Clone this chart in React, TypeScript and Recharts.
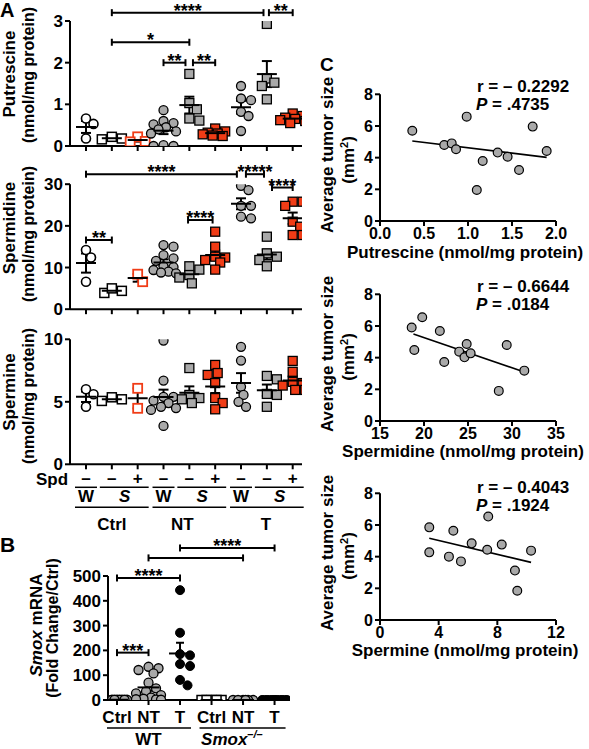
import React from 'react';
import { ScatterChart, Scatter, XAxis, YAxis, ReferenceLine, ErrorBar } from 'recharts';

const FONT = '"Liberation Sans", Arial, Helvetica, sans-serif';
const GRAY = '#a9a9a9';
const RED = '#f03c16';

// ---------------- Panel A data ----------------
const aCategories = [1, 2, 3, 4, 5, 6, 7, 8, 9];
const spdLabels = ['–', '–', '+', '–', '–', '+', '–', '–', '+'];
const genotypeLabels = ['W', 'S', 'W', 'S', 'W', 'S'];
const tissueLabels = ['Ctrl', 'NT', 'T'];

const putrescine = [
  [0.66, 0.53, 0.18],
  [0.16, 0.22, 0.18],
  [0.22, 0.1, 0.11],
  [0.86, 0.6, 0.55, 0.52, 0.45, 0.4, 0.35, 0.3, 0.02, 0, 0],
  [1.73, 1.03, 0.88, 0.66, 0.61],
  [0.42, 0.35, 0.32, 0.3, 0.28, 0.25, 0.24],
  [1.44, 1.14, 1.1, 0.82, 0.72, 0.36],
  [2.93, 1.62, 1.52, 1.44, 1.12],
  [0.78, 0.72, 0.68, 0.65, 0.62, 0.6, 0.55],
];
const spermidine = [
  [14.2, 12.4, 6.6],
  [3.9, 4.4, 5.0],
  [6.6, 8.4],
  [15.4, 15.0, 13.0, 12.2, 11.6, 10.3, 10.1, 9.4, 9.0, 8.6, 8.8],
  [10.3, 9.5, 8.2, 7.6, 6.2],
  [18.6, 15.0, 12.6, 12.4, 11.8, 11.2, 9.5],
  [29.6, 28.6, 24.8, 24.8, 22.2, 21.8],
  [17.4, 13.4, 12.6, 11.8, 10.3],
  [25.8, 25.8, 24.8, 21.0, 19.8, 17.8, 17.8],
];
const spermine = [
  [6.0, 5.6, 4.6],
  [5.07, 5.2, 5.36],
  [6.08, 4.48],
  [9.9, 6.7, 5.4, 5.4, 5.1, 4.9, 4.6, 4.5, 4.35, 3.07],
  [7.7, 5.55, 5.3, 5.2, 4.9],
  [7.95, 7.3, 7.15, 6.5, 5.3, 4.9, 4.4],
  [9.4, 8.3, 6.2, 5.55, 5.0, 4.6],
  [7.07, 6.8, 5.63, 5.55, 4.6],
  [8.27, 7.4, 6.6, 6.5, 6.3, 5.95, 5.95],
];

const putBrackets = [
  { from: 2, to: 7.87, y: 3.2, label: '****' },
  { from: 8.08, to: 9, y: 3.2, label: '**' },
  { from: 2, to: 5, y: 2.49, label: '*' },
  { from: 4, to: 4.85, y: 2.0, label: '**' },
  { from: 5.14, to: 6, y: 2.0, label: '**' },
];
const spdBrackets = [
  { from: 1, to: 6.84, y: 32.4, label: '****' },
  { from: 7.19, to: 7.89, y: 32.4, label: '*****' },
  { from: 8.2, to: 9, y: 29.2, label: '****' },
  { from: 4.95, to: 5.9, y: 21.4, label: '****' },
  { from: 1, to: 2, y: 16.6, label: '**' },
];

// ---------------- Panel B data ----------------
const bCategories = [1, 2, 3, 4, 5, 6];
const bLabels = ['Ctrl', 'NT', 'T', 'Ctrl', 'NT', 'T'];
const smoxWTCtrl = [1, 1, 1, 1, 1, 1, 1, 1];
const smoxWTNT = [134, 128, 121, 107, 70, 47, 35, 27, 20, 10, 5, 3, 2, 1];
const smoxWTT = [443, 271, 185, 180, 145, 137, 81, 59];
const smoxKOCtrl = [0, 0, 0, 0, 0];
const smoxKONT = [0, 0, 0, 0, 0, 0];
const smoxKOT = [0, 0, 0, 0, 0, 0, 0, 0, 0, 0, 0, 0];
const smoxGroups = [smoxWTCtrl, smoxWTNT, smoxWTT, smoxKOCtrl, smoxKONT, smoxKOT];
const bBrackets = [
  { from: 1, to: 2, y: 191, label: '***' },
  { from: 1, to: 3, y: 492, label: '****' },
  { from: 2, to: 5, y: 573, label: '' },
  { from: 3, to: 6, y: 613, label: '****' },
];

// ---------------- Panel C data ----------------
const putX = [0.367, 0.985, 0.73, 0.815, 0.864, 1.167, 1.1, 1.337, 1.45, 1.58, 1.735, 1.894];
const putTumor = [5.7, 6.59, 4.8, 4.9, 4.53, 3.79, 1.96, 4.32, 4.06, 3.22, 5.96, 4.42];
const spdX = [18.6, 19.8, 18.9, 21.8, 22.3, 24.0, 24.85, 24.6, 25.3, 29.4, 28.5, 31.4];
const spdTumor = [5.9, 6.55, 4.48, 5.68, 3.73, 4.38, 4.86, 4.02, 4.27, 4.8, 1.9, 3.18];
const spmX = [3.36, 3.36, 5.0, 4.7, 5.52, 6.25, 7.38, 7.31, 8.3, 9.2, 9.36, 10.3];
const spmTumor = [5.85, 4.27, 5.64, 4.0, 3.7, 4.84, 6.53, 4.44, 4.76, 3.12, 1.85, 4.38];
const putFit = [{ x: 0.367, y: 5.05 }, { x: 1.894, y: 4.02 }];
const spdFit = [{ x: 18.8, y: 5.49 }, { x: 31.4, y: 3.09 }];
const spmFit = [{ x: 3.36, y: 5.16 }, { x: 10.3, y: 3.64 }];

// ---------------- styles / layout ----------------
type Kind = 'openCircle' | 'openSquare' | 'redOpenSquare' | 'grayCircle' | 'graySquare' | 'redSquare' | 'blackCircle';
const aKinds: Kind[] = ['openCircle', 'openSquare', 'redOpenSquare', 'grayCircle', 'graySquare', 'redSquare', 'grayCircle', 'graySquare', 'redSquare'];
const bKinds: Kind[] = ['grayCircle', 'grayCircle', 'blackCircle', 'openSquare', 'grayCircle', 'blackCircle'];
const tissueShift = [0, -7, -1];

const A_W = 310;
const A_ML = 40;
const A_YW = 30;
const A_MR = 8;
const A_X_DOMAIN: [number, number] = [0.381, 9.36];
const A_PLOT_W = A_W - A_ML - A_YW - A_MR;
const A_PX_PER_CAT = A_PLOT_W / (A_X_DOMAIN[1] - A_X_DOMAIN[0]);
const A_PLOT_H = 125;

const B_X_DOMAIN: [number, number] = [0.714, 6.49];
const B_PLOT_W = 182;
const B_PX_PER_CAT = B_PLOT_W / (B_X_DOMAIN[1] - B_X_DOMAIN[0]);
const B_PLOT_H = 124;

const AXIS = { stroke: '#000', strokeWidth: 2 };
const tickFont = (size: number) => ({ fill: '#000', fontSize: size, fontWeight: 'bold' as const, fontFamily: FONT });

function mean(v: number[]) {
  return v.reduce((a, b) => a + b, 0) / v.length;
}
function sem(v: number[]) {
  if (v.length < 2) return 0;
  const m = mean(v);
  const sd = Math.sqrt(v.reduce((a, b) => a + (b - m) * (b - m), 0) / (v.length - 1));
  return sd / Math.sqrt(v.length);
}

function swarmOffsets(values: number[], pxPerUnit: number, maxHalf = 12.5, dMin = 8.5): number[] {
  const order = values.map((_, i) => i).sort((a, b) => values[b] - values[a]);
  const placed: { x: number; y: number }[] = [];
  const out = new Array(values.length).fill(0);
  const cands = [0];
  for (let s = 2.5; s <= maxHalf + 0.01; s += 2.5) cands.push(s, -s);
  for (const i of order) {
    const y = values[i] * pxPerUnit;
    let best = 0;
    let bestScore = -Infinity;
    for (const c of cands) {
      let md = Infinity;
      for (const p of placed) md = Math.min(md, Math.hypot(p.x - c, p.y - y));
      if (md >= dMin) {
        best = c;
        break;
      }
      if (md > bestScore) {
        bestScore = md;
        best = c;
      }
    }
    placed.push({ x: best, y });
    out[i] = best;
  }
  return out;
}

function drawMarker(kind: Kind, cx: number, cy: number) {
  const r = 4.5;
  switch (kind) {
    case 'openCircle':
      return <circle cx={cx} cy={cy} r={r} fill="#fff" stroke="#000" strokeWidth={1.6} />;
    case 'grayCircle':
      return <circle cx={cx} cy={cy} r={r} fill={GRAY} stroke="#000" strokeWidth={1.3} />;
    case 'blackCircle':
      return <circle cx={cx} cy={cy} r={r} fill="#000" stroke="#000" strokeWidth={1} />;
    case 'openSquare':
      return <rect x={cx - r} y={cy - r} width={2 * r} height={2 * r} fill="#fff" stroke="#000" strokeWidth={1.5} />;
    case 'graySquare':
      return <rect x={cx - r} y={cy - r} width={2 * r} height={2 * r} fill={GRAY} stroke="#000" strokeWidth={1.3} />;
    case 'redSquare':
      return <rect x={cx - r} y={cy - r} width={2 * r} height={2 * r} fill={RED} stroke="#000" strokeWidth={1.3} />;
    case 'redOpenSquare':
    default:
      return <rect x={cx - r} y={cy - r} width={2 * r} height={2 * r} fill="#fff" stroke={RED} strokeWidth={1.8} />;
  }
}

const markerShape = (kind: Kind) => (p: any) => drawMarker(kind, p.cx, p.cy);
const meanShape = (half: number) => (p: any) => (
  <line x1={p.cx - half} x2={p.cx + half} y1={p.cy} y2={p.cy} stroke="#000" strokeWidth={2} />
);

const bracketShape = (label: string) => (p: any) => {
  const { x1, x2, y1 } = p;
  return (
    <g>
      <line x1={x1} x2={x2} y1={y1} y2={y1} stroke="#000" strokeWidth={2} />
      <line x1={x1} x2={x1} y1={y1 - 3.5} y2={y1 + 3.5} stroke="#000" strokeWidth={2} />
      <line x1={x2} x2={x2} y1={y1 - 3.5} y2={y1 + 3.5} stroke="#000" strokeWidth={2} />
      {label ? (
        <text x={(x1 + x2) / 2} y={y1 + 4} textAnchor="middle" fontFamily={FONT} fontWeight="bold" fontSize={18} fill="#000">
          {label}
        </text>
      ) : null}
    </g>
  );
};

const EmptyTick = () => <g />;

const txt = { fontFamily: FONT, fontWeight: 'bold' as const, fill: '#000' };

const AGroupTick = (props: any) => {
  const { x, y, payload } = props;
  const i = Math.round(payload.value);
  const axisY = y - 5;
  const step = A_PX_PER_CAT;
  const pos = (i - 1) % 3;
  const g = Math.floor((i - 1) / 3);
  return (
    <g>
      {i === 1 ? (
        <text x={x - 34} y={axisY + 21} textAnchor="middle" fontSize={17} {...txt}>
          Spd
        </text>
      ) : null}
      <text x={x} y={axisY + 20} textAnchor="middle" fontSize={17} {...txt}>
        {spdLabels[i - 1]}
      </text>
      {pos === 0 ? (
        <g>
          <line x1={x - 11} x2={x + 11} y1={axisY + 23} y2={axisY + 23} stroke="#000" strokeWidth={1.5} />
          <text x={x} y={axisY + 38} textAnchor="middle" fontSize={17} {...txt}>
            {genotypeLabels[g * 2]}
          </text>
        </g>
      ) : null}
      {pos === 1 ? (
        <g>
          <line x1={x - 12} x2={x + step + 11} y1={axisY + 23} y2={axisY + 23} stroke="#000" strokeWidth={1.5} />
          <text x={x + step / 2} y={axisY + 38} textAnchor="middle" fontSize={17} fontStyle="italic" {...txt}>
            {genotypeLabels[g * 2 + 1]}
          </text>
          <line x1={x - step - 11} x2={x + step + 11} y1={axisY + 43} y2={axisY + 43} stroke="#000" strokeWidth={1.5} />
          <text x={x + tissueShift[g]} y={axisY + 66} textAnchor="middle" fontSize={17} {...txt}>
            {tissueLabels[g]}
          </text>
        </g>
      ) : null}
    </g>
  );
};

const BTick = (props: any) => {
  const { x, y, payload } = props;
  const i = Math.round(payload.value);
  const axisY = y - 5;
  const step = B_PX_PER_CAT;
  return (
    <g>
      <text x={x} y={axisY + 23} textAnchor="middle" fontSize={17} {...txt}>
        {bLabels[i - 1]}
      </text>
      {i === 2 ? (
        <g>
          <line x1={x - step - 10} x2={x + step + 11} y1={axisY + 28} y2={axisY + 28} stroke="#000" strokeWidth={1.5} />
          <text x={x} y={axisY + 45} textAnchor="middle" fontSize={17} {...txt}>
            WT
          </text>
        </g>
      ) : null}
      {i === 5 ? (
        <g>
          <line x1={x - step - 12} x2={x + step + 11} y1={axisY + 28} y2={axisY + 28} stroke="#000" strokeWidth={1.5} />
          <text x={x - 42} y={axisY + 45} textAnchor="start" fontSize={17} fontStyle="italic" {...txt}>
            Smox
            <tspan dy={-7} fontSize={11} fontStyle="italic">
              –/–
            </tspan>
          </text>
        </g>
      ) : null}
    </g>
  );
};

type Bracket = { from: number; to: number; y: number; label: string };

function PanelA(props: {
  values: number[][];
  yMax: number;
  yTicks: number[];
  brackets: Bracket[];
  top: number;
  marginTop: number;
  xAxisHeight: number;
  groupTicks?: boolean;
}) {
  const { values, yMax, yTicks, brackets, top, marginTop, xAxisHeight, groupTicks } = props;
  const height = marginTop + A_PLOT_H + xAxisHeight;
  const pxY = A_PLOT_H / yMax;
  const series = values.map((vals, ci) => {
    const offs = swarmOffsets(vals, pxY);
    return vals.map((v, k) => ({ x: aCategories[ci] + offs[k] / A_PX_PER_CAT, y: v }));
  });
  const means = values.map((vals, ci) => ({ x: aCategories[ci], y: mean(vals), sem: sem(vals) }));
  return (
    <div style={{ position: 'absolute', left: 0, top, width: A_W, height }}>
      <ScatterChart width={A_W} height={height} margin={{ top: marginTop, right: A_MR, bottom: 0, left: A_ML }}>
        <XAxis
          type="number"
          dataKey="x"
          domain={A_X_DOMAIN}
          ticks={aCategories}
          allowDataOverflow
          interval={0}
          height={xAxisHeight}
          tickSize={5}
          tickMargin={0}
          axisLine={AXIS}
          tickLine={AXIS}
          tick={groupTicks ? AGroupTick : EmptyTick}
        />
        <YAxis
          type="number"
          dataKey="y"
          domain={[0, yMax]}
          ticks={yTicks}
          allowDataOverflow
          interval={0}
          width={A_YW}
          tickSize={5}
          axisLine={AXIS}
          tickLine={AXIS}
          tick={tickFont(17)}
        />
        {series.map((d, ci) => (
          <Scatter key={ci} data={d} isAnimationActive={false} shape={markerShape(aKinds[ci])} />
        ))}
        <Scatter data={means} isAnimationActive={false} shape={meanShape(10)}>
          <ErrorBar dataKey="sem" direction="y" width={5} stroke="#000" strokeWidth={2} />
        </Scatter>
        {brackets.map((b, k) => (
          <ReferenceLine
            key={k}
            segment={[
              { x: b.from, y: b.y },
              { x: b.to, y: b.y },
            ]}
            ifOverflow="visible"
            shape={bracketShape(b.label)}
          />
        ))}
      </ScatterChart>
    </div>
  );
}

function PanelB() {
  const pxY = B_PLOT_H / 500;
  const series = smoxGroups.map((vals, ci) => {
    const offs = swarmOffsets(vals, pxY, 12.5, 8.5);
    return vals.map((v, k) => ({ x: bCategories[ci] + offs[k] / B_PX_PER_CAT, y: v }));
  });
  const means = smoxGroups.map((vals, ci) => ({ x: bCategories[ci], y: mean(vals), sem: sem(vals) }));
  const W = 240;
  const H = 46 + B_PLOT_H + 49;
  return (
    <div style={{ position: 'absolute', left: 60, top: 530, width: W, height: H }}>
      <ScatterChart width={W} height={H} margin={{ top: 46, right: 10, bottom: 0, left: 8 }}>
        <XAxis
          type="number"
          dataKey="x"
          domain={B_X_DOMAIN}
          ticks={bCategories}
          allowDataOverflow
          interval={0}
          height={49}
          tickSize={5}
          tickMargin={0}
          axisLine={AXIS}
          tickLine={AXIS}
          tick={BTick}
        />
        <YAxis
          type="number"
          dataKey="y"
          domain={[0, 500]}
          ticks={[0, 100, 200, 300, 400, 500]}
          allowDataOverflow
          interval={0}
          width={40}
          tickSize={5}
          axisLine={AXIS}
          tickLine={AXIS}
          tick={tickFont(17)}
        />
        {series.map((d, ci) => (
          <Scatter key={ci} data={d} isAnimationActive={false} shape={markerShape(bKinds[ci])} />
        ))}
        <Scatter data={means} isAnimationActive={false} shape={meanShape(11)}>
          <ErrorBar dataKey="sem" direction="y" width={4} stroke="#000" strokeWidth={2} />
        </Scatter>
        {bBrackets.map((b, k) => (
          <ReferenceLine
            key={k}
            segment={[
              { x: b.from, y: b.y },
              { x: b.to, y: b.y },
            ]}
            ifOverflow="visible"
            shape={bracketShape(b.label)}
          />
        ))}
      </ScatterChart>
    </div>
  );
}

function PanelC(props: {
  top: number;
  xs: number[];
  ys: number[];
  xDomain: [number, number];
  xTicks: number[];
  fmt: (v: number) => string;
  fit: { x: number; y: number }[];
}) {
  const { top, xs, ys, xDomain, xTicks, fmt, fit } = props;
  const data = xs.map((x, i) => ({ x, y: ys[i] }));
  const W = 260;
  const H = 205;
  return (
    <div style={{ position: 'absolute', left: 330, top, width: W, height: H }}>
      <ScatterChart width={W} height={H} margin={{ top: 34.3, right: 34, bottom: 0, left: 20 }}>
        <XAxis
          type="number"
          dataKey="x"
          domain={xDomain}
          ticks={xTicks}
          allowDataOverflow
          interval={0}
          height={44}
          tickSize={5}
          axisLine={AXIS}
          tickLine={AXIS}
          tickFormatter={fmt}
          tick={tickFont(16)}
        />
        <YAxis
          type="number"
          dataKey="y"
          domain={[0, 8]}
          ticks={[0, 2, 4, 6, 8]}
          allowDataOverflow
          interval={0}
          width={30}
          tickSize={5}
          axisLine={AXIS}
          tickLine={AXIS}
          tick={tickFont(16)}
        />
        <ReferenceLine segment={fit} ifOverflow="visible" stroke="#000" strokeWidth={1.6} />
        <Scatter
          data={data}
          isAnimationActive={false}
          shape={(p: any) => <circle cx={p.cx} cy={p.cy} r={4.4} fill={GRAY} stroke="#000" strokeWidth={1.2} />}
        />
      </ScatterChart>
    </div>
  );
}

const Rot = (p: { x: number; y: number; size?: number; children: React.ReactNode }) => (
  <text
    transform={`translate(${p.x},${p.y}) rotate(-90)`}
    textAnchor="middle"
    fontSize={p.size ?? 17}
    {...txt}
  >
    {p.children}
  </text>
);

const Stat = (p: { y: number; r: string; pv: string }) => (
  <g>
    <text x={477} y={p.y} fontSize={17} {...txt}>
      {p.r}
    </text>
    <text x={476} y={p.y + 18} fontSize={17} {...txt}>
      <tspan fontStyle="italic">P</tspan> = {p.pv}
    </text>
  </g>
);

export default function App() {
  return (
    <div style={{ position: 'absolute', left: 0, top: 0, width: 589, height: 749, background: '#fff', overflow: 'hidden' }}>
      <svg width={589} height={749} style={{ position: 'absolute', left: 0, top: 0 }}>
        <text x={0} y={17} fontSize={20} {...txt}>A</text>
        <text x={0} y={552} fontSize={21} {...txt}>B</text>
        <text x={320} y={71} fontSize={19} {...txt}>C</text>

        <Rot x={15} y={74}>Putrescine</Rot>
        <Rot x={34} y={75} size={16}>(nmol/mg protein)</Rot>
        <Rot x={15} y={228}>Spermidine</Rot>
        <Rot x={34} y={234} size={16}>(nmol/mg protein)</Rot>
        <Rot x={15} y={392}>Spermine</Rot>
        <Rot x={34} y={396} size={16}>(nmol/mg protein)</Rot>

        <Rot x={42} y={625}>
          <tspan fontStyle="italic">Smox</tspan> mRNA
        </Rot>
        <Rot x={58} y={628} size={16}>(Fold Change/Ctrl)</Rot>

        <Rot x={333} y={155}>Average tumor size</Rot>
        <Rot x={354} y={160}>
          (mm<tspan dy={-6} fontSize={11}>2</tspan>
          <tspan dy={6}>)</tspan>
        </Rot>
        <Rot x={333} y={354}>Average tumor size</Rot>
        <Rot x={354} y={357}>
          (mm<tspan dy={-6} fontSize={11}>2</tspan>
          <tspan dy={6}>)</tspan>
        </Rot>
        <Rot x={333} y={553}>Average tumor size</Rot>
        <Rot x={354} y={556}>
          (mm<tspan dy={-6} fontSize={11}>2</tspan>
          <tspan dy={6}>)</tspan>
        </Rot>

        <text x={465} y={258} textAnchor="middle" fontSize={17} {...txt}>Putrescine (nmol/mg protein)</text>
        <text x={463} y={457} textAnchor="middle" fontSize={17} {...txt}>Spermidine (nmol/mg protein)</text>
        <text x={465} y={656} textAnchor="middle" fontSize={17} {...txt}>Spermine (nmol/mg protein)</text>

        <Stat y={92} r="r = – 0.2292" pv=".4735" />
        <Stat y={292} r="r = – 0.6644" pv=".0184" />
        <Stat y={493} r="r = – 0.4043" pv=".1924" />
      </svg>

      <PanelA values={putrescine} yMax={3} yTicks={[0, 1, 2, 3]} brackets={putBrackets} top={0} marginTop={21} xAxisHeight={10} />
      <PanelA values={spermidine} yMax={30} yTicks={[0, 10, 20, 30]} brackets={spdBrackets} top={150} marginTop={34.2} xAxisHeight={10} />
      <PanelA values={spermine} yMax={10} yTicks={[0, 5, 10]} brackets={[]} top={320} marginTop={19.3} xAxisHeight={75} groupTicks />
      <PanelB />
      <PanelC top={60} xs={putX} ys={putTumor} xDomain={[0, 2]} xTicks={[0, 0.5, 1, 1.5, 2]} fmt={(v) => v.toFixed(1)} fit={putFit} />
      <PanelC top={260} xs={spdX} ys={spdTumor} xDomain={[15, 35]} xTicks={[15, 20, 25, 30, 35]} fmt={(v) => String(v)} fit={spdFit} />
      <PanelC top={459} xs={spmX} ys={spmTumor} xDomain={[0, 12]} xTicks={[0, 4, 8, 12]} fmt={(v) => String(v)} fit={spmFit} />
    </div>
  );
}
